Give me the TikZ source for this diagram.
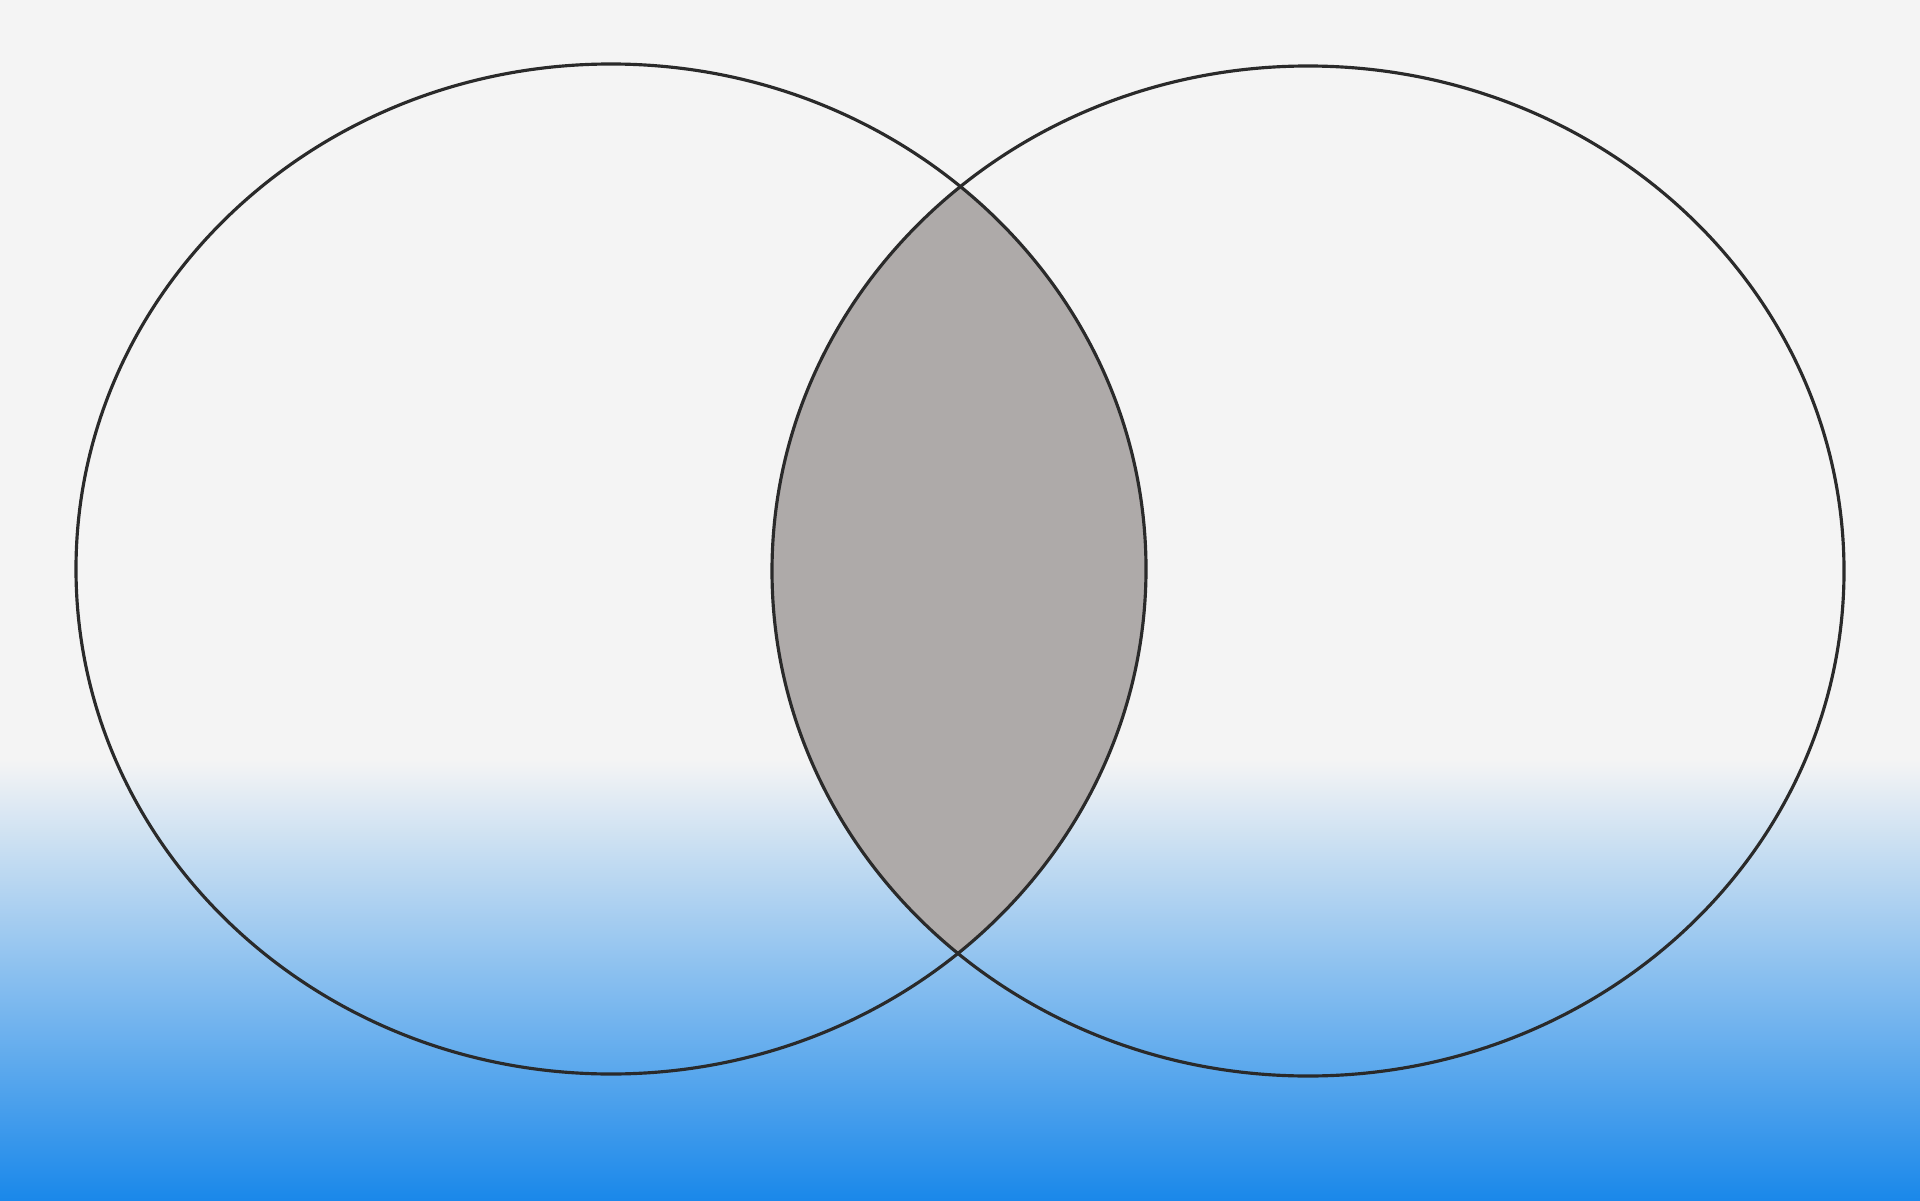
\documentclass[tikz,border=0pt]{standalone}
\usepackage{tikz}
\definecolor{bggray}{HTML}{F4F4F4}
\definecolor{skyblue}{HTML}{1A88EA}
\definecolor{lensgray}{HTML}{AEAAA9}
\definecolor{rimgray}{HTML}{2A2A2A}

\begin{document}
\begin{tikzpicture}[
          setrim/.style={draw=rimgray,line width=0.9pt},
          lens/.style={fill=lensgray},
        ]
        \useasboundingbox (0,0) rectangle (19.2,12);
        % background
        \fill[bggray] (0,0) rectangle (19.2,12);
        \shade[bottom color=skyblue,top color=bggray] (0,0) rectangle (19.2,4.4);
        % centres of the two sets
        \coordinate (A) at (6.11, 6.31);
        \coordinate (B) at (13.08, 6.29);
        % shaded overlap
        \begin{scope}
          \clip (A) ellipse [x radius=5.35, y radius=5.05];
          \fill[lens] (B) ellipse [x radius=5.36, y radius=5.05];
        \end{scope}
        \draw[setrim] (A) ellipse [x radius=5.35, y radius=5.05];
        \draw[setrim] (B) ellipse [x radius=5.36, y radius=5.05];
      \end{tikzpicture}
\end{document}
